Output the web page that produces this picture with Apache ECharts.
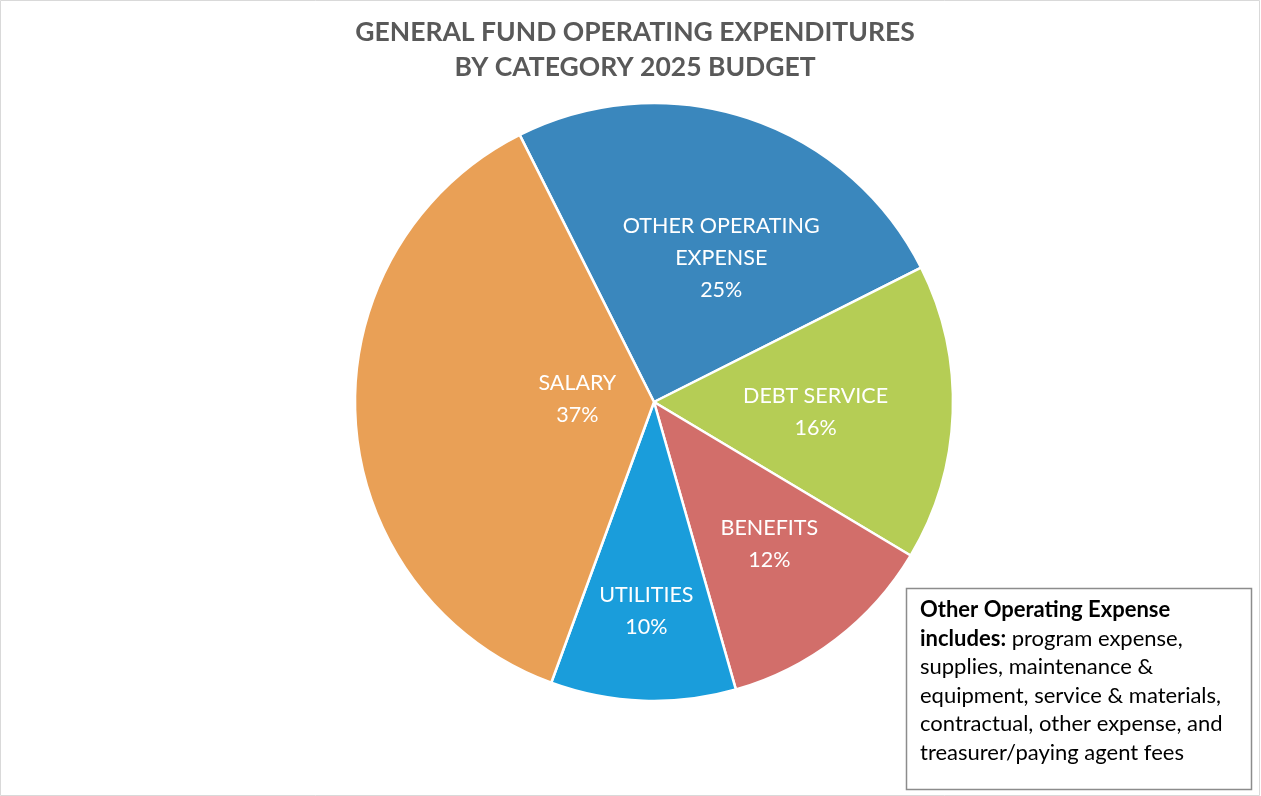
<!DOCTYPE html>
<html>
<head>
<meta charset="utf-8">
<title>General Fund Operating Expenditures by Category 2025 Budget</title>
<script src="https://cdn.jsdelivr.net/npm/echarts@6/dist/echarts.min.js"></script>
<style>
  html, body { margin: 0; padding: 0; background: #ffffff; }
  #chart { width: 1261px; height: 796px; }
</style>
</head>
<body>
<div id="chart"></div>
<script>
// Budget shares (percent), listed clockwise from the top of the pie
const categories = ['OTHER OPERATING\nEXPENSE', 'DEBT SERVICE', 'BENEFITS', 'UTILITIES', 'SALARY'];
const shares = [25, 16, 12, 10, 37];
const sliceColors = ['#3a87bd', '#b5cd55', '#d26e6a', '#1a9ddb', '#e9a056'];

const titleLines = ['GENERAL FUND OPERATING EXPENDITURES', 'BY CATEGORY 2025 BUDGET'];
const noteBold = ['Other Operating Expense', 'includes:'];
const noteLines = [
  ' program expense,',
  'supplies, maintenance &',
  'equipment, service & materials,',
  'contractual, other expense, and',
  'treasurer/paying agent fees'
];

// Radial scale of each inside label relative to the slice's mid-radius,
// plus a small pixel nudge per label
const labelReach = [1.07, 1.08, 1.21, 1.37, 0.51];
const labelNudge = [[16, 11], [-3, 4], [3, -4], [0, 0], [1, -7]];

const CENTER = [654, 402];
const RADIUS = 299;
const FONT = 'Lato, "Open Sans", "Liberation Sans", sans-serif';

const chart = echarts.init(document.getElementById('chart'), null, { renderer: 'canvas' });

chart.setOption({
  backgroundColor: '#ffffff',
  animation: false,
  title: {
    text: titleLines.join('\n'),
    left: 630,
    top: 10,
    textAlign: 'center',
    textStyle: {
      fontFamily: FONT,
      fontWeight: 'bold',
      fontSize: 26.5,
      lineHeight: 35,
      color: '#595959'
    }
  },
  series: [{
    type: 'pie',
    center: CENTER,
    radius: [0, RADIUS],
    startAngle: 116.7,
    clockwise: true,
    avoidLabelOverlap: false,
    itemStyle: { borderColor: '#ffffff', borderWidth: 2.5 },
    label: {
      show: true,
      position: 'inside',
      formatter: function (p) { return p.name + '\n' + p.value + '%'; },
      color: '#ffffff',
      fontFamily: FONT,
      fontSize: 21.5,
      lineHeight: 32,
      align: 'center'
    },
    labelLine: { show: false },
    labelLayout: function (params) {
      const r = params.labelRect;
      const cx = r.x + r.width / 2;
      const cy = r.y + r.height / 2;
      const i = params.dataIndex;
      const k = labelReach[i];
      return {
        dx: (cx - CENTER[0]) * (k - 1) + labelNudge[i][0],
        dy: (cy - CENTER[1]) * (k - 1) + labelNudge[i][1]
      };
    },
    emphasis: { disabled: true },
    data: categories.map(function (name, i) {
      return { name: name, value: shares[i], itemStyle: { color: sliceColors[i] } };
    })
  }],
  graphic: [
    {
      type: 'rect',
      shape: { x: 0.5, y: 0.5, width: 1259, height: 795 },
      style: { fill: 'none', stroke: '#d9d9d9', lineWidth: 1 },
      silent: true
    },
    {
      type: 'rect',
      shape: { x: 906.5, y: 588.5, width: 345, height: 201 },
      style: { fill: '#ffffff', stroke: '#8c8c8c', lineWidth: 1.5 },
      silent: true
    },
    {
      type: 'text',
      x: 920,
      y: 596,
      style: {
        text: '{b|' + noteBold[0] + '}\n{b|' + noteBold[1] + '}{n|' + noteLines[0] + '}\n' +
              noteLines.slice(1).map(function (l) { return '{n|' + l + '}'; }).join('\n'),
        fontFamily: FONT,
        fontSize: 22,
        lineHeight: 28.5,
        fill: '#000000',
        rich: {
          b: { fontFamily: FONT, fontSize: 22, fontWeight: 'bold', lineHeight: 28.5, fill: '#000000' },
          n: { fontFamily: FONT, fontSize: 22, lineHeight: 28.5, fill: '#000000' }
        }
      },
      silent: true
    }
  ]
});
</script>
</body>
</html>
